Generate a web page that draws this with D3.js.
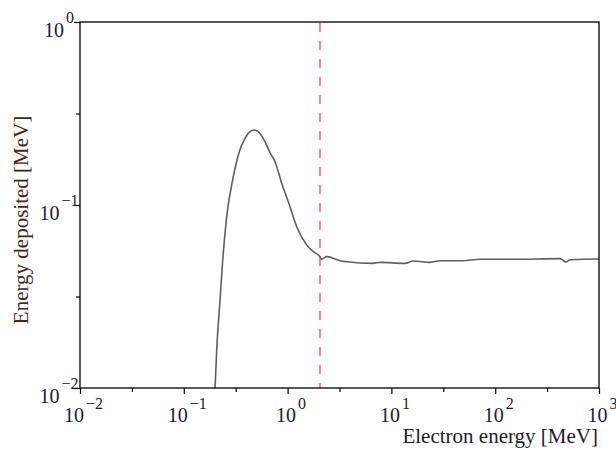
<!DOCTYPE html>
<html>
<head>
<meta charset="utf-8">
<script src="https://cdn.jsdelivr.net/npm/d3@7"></script>
<style>
  html, body { margin: 0; padding: 0; background: #fff; }
  svg { display: block; }
</style>
</head>
<body>
<svg id="chart" width="616" height="451"></svg>
<script>
// ---- data ----
const energyMeV = [0.200, 0.2075, 0.2234, 0.2371, 0.259, 0.300, 0.3425, 0.3887, 0.4343, 0.4746,
  0.5221, 0.6056, 0.6767, 0.7559, 0.8773, 1.0547, 1.2237, 1.528, 1.768, 2.051,
  2.130, 2.381, 3.198, 3.71, 6.69, 7.77, 13.5, 16.26, 23.6, 29.4,
  48.9, 71.4, 148.4, 420.7, 480.8, 525.6, 950, 1000];
const depositedMeV = [0.0100, 0.01614, 0.0303, 0.0500, 0.0863, 0.1428, 0.1956, 0.2314, 0.2516, 0.2570,
  0.2516, 0.2218, 0.1930, 0.1730, 0.1314, 0.0979, 0.0761, 0.0605, 0.0556, 0.0522,
  0.0505, 0.0522, 0.0496, 0.0490, 0.0480, 0.0486, 0.0480, 0.0494, 0.0486, 0.0496,
  0.0496, 0.0505, 0.0505, 0.0509, 0.0488, 0.0502, 0.0507, 0.0507];
const thresholdMeV = [2.05];
const xMajorTicks = [1e-2, 1e-1, 1e0, 1e1, 1e2, 1e3];
const xMajorExp = ["\u22122", "\u22121", "0", "1", "2", "3"];
const xMinorTicks = [Math.pow(10,-1.5), Math.pow(10,-0.5), Math.pow(10,0.5), Math.pow(10,1.5), Math.pow(10,2.5)];
const yMajorTicks = [1e-2, 1e-1, 1e0];
const yMajorExp = ["\u22122", "\u22121", "0"];
const yMinorTicks = [Math.pow(10,-1.5), Math.pow(10,-0.5)];
const xTitle = "Electron energy [MeV]";
const yTitle = "Energy deposited [MeV]";

// ---- layout ----
const L = 80, R = 599, T = 22, B = 388;
const svg = d3.select("#chart");
const font = "'Liberation Serif', 'Times New Roman', serif";
const labelColor = "#1c1c30";

const x = d3.scaleLog().domain([1e-2, 1e3]).range([L, R]);
const y = d3.scaleLog().domain([1e-2, 1e0]).range([B, T]);

// clip
svg.append("clipPath").attr("id", "clip")
  .append("rect").attr("x", L).attr("y", T).attr("width", R - L).attr("height", B - T);

// dashed threshold line
svg.append("g").selectAll("line").data(thresholdMeV).join("line")
  .attr("x1", d => x(d)).attr("x2", d => x(d))
  .attr("y1", T + 1).attr("y2", B)
  .attr("stroke", "#f08890").attr("stroke-width", 2)
  .attr("stroke-dasharray", "9,9");

// curve
const pts = energyMeV.map((e, i) => [e, depositedMeV[i]]);
svg.append("path")
  .datum(pts)
  .attr("clip-path", "url(#clip)")
  .attr("fill", "none")
  .attr("stroke", "#606060")
  .attr("stroke-width", 1.6)
  .attr("stroke-linejoin", "round")
  .attr("d", d3.line().x(d => x(d[0])).y(d => y(d[1])).curve(d3.curveMonotoneX));

// box
svg.append("rect").attr("x", L).attr("y", T).attr("width", R - L).attr("height", B - T)
  .attr("fill", "none").attr("stroke", "#000").attr("stroke-width", 1.3);

// x axis
const gxMinor = svg.append("g").attr("transform", `translate(0,${B})`)
  .call(d3.axisBottom(x).tickValues(xMinorTicks).tickSize(4).tickSizeOuter(0).tickFormat(""));
const gx = svg.append("g").attr("transform", `translate(0,${B})`)
  .call(d3.axisBottom(x).tickValues(xMajorTicks).tickSize(6).tickSizeOuter(0).tickFormat(""));
[gxMinor, gx].forEach(g => {
  g.select(".domain").remove();
  g.selectAll(".tick line").attr("stroke", "#000").attr("stroke-width", 1.2);
});
gx.selectAll(".tick text").remove();
gx.selectAll(".tick").each(function(d, i) {
  const t = d3.select(this).append("text")
    .attr("x", 3).attr("y", 34)
    .attr("text-anchor", "middle")
    .attr("font-family", font).attr("fill", labelColor)
    .attr("font-size", 20);
  t.append("tspan").text("10");
  t.append("tspan").attr("dx", 2).attr("dy", -13.5).attr("font-size", 16).text(xMajorExp[i]);
});

// y axis
const gyMinor = svg.append("g").attr("transform", `translate(${L},0)`)
  .call(d3.axisLeft(y).tickValues(yMinorTicks).tickSize(4).tickSizeOuter(0).tickFormat(""));
const gy = svg.append("g").attr("transform", `translate(${L},0)`)
  .call(d3.axisLeft(y).tickValues(yMajorTicks).tickSize(6).tickSizeOuter(0).tickFormat(""));
[gyMinor, gy].forEach(g => {
  g.select(".domain").remove();
  g.selectAll(".tick line").attr("stroke", "#000").attr("stroke-width", 1.2);
});
gy.selectAll(".tick text").remove();
gy.selectAll(".tick").each(function(d, i) {
  const t = d3.select(this).append("text")
    .attr("x", -21).attr("y", 14)
    .attr("text-anchor", "middle")
    .attr("font-family", font).attr("fill", labelColor)
    .attr("font-size", 20);
  t.append("tspan").text("10");
  t.append("tspan").attr("dx", 2).attr("dy", -14).attr("font-size", 16).text(yMajorExp[i]);
});

// titles
svg.append("text")
  .attr("x", 598).attr("y", 443)
  .attr("text-anchor", "end")
  .attr("font-family", font).attr("font-size", 21).attr("fill", labelColor)
  .text(xTitle);
svg.append("text")
  .attr("transform", "translate(28,220) rotate(-90)")
  .attr("text-anchor", "middle")
  .attr("font-family", font).attr("font-size", 21).attr("fill", "#4a2418")
  .text(yTitle);
</script>
</body>
</html>
